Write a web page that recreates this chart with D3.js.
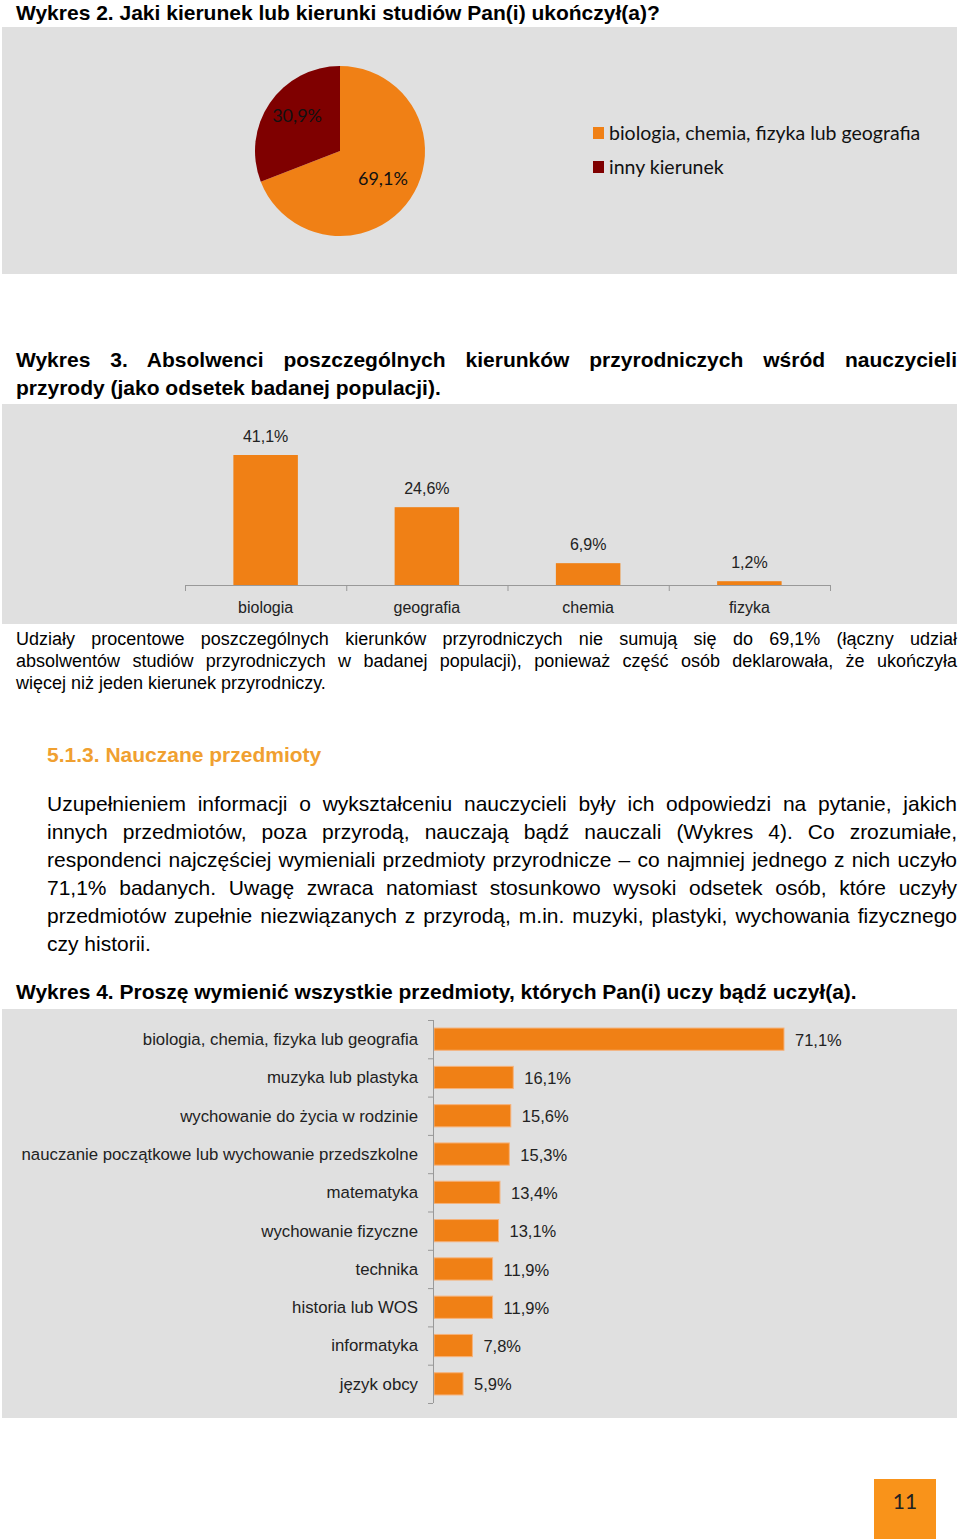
<!DOCTYPE html>
<html>
<head>
<meta charset="utf-8">
<script src="https://cdn.jsdelivr.net/npm/d3@7"></script>
<style>
  body { margin: 0; background: #fff; }
  #page { position: relative; width: 960px; height: 1540px; overflow: hidden; }
  svg { position: absolute; left: 0; top: 0; }
  .line { position: absolute; white-space: nowrap; font-family: "Liberation Sans", Arial, sans-serif; color: #000; }
  .just { text-align: justify; text-align-last: justify; }
  .title { font-weight: bold; font-size: 21px; }
</style>
</head>
<body>
<div id="page"></div>
<script>
// pie (Wykres 2)
var pieLabels = ["biologia, chemia, fizyka lub geografia", "inny kierunek"];
var pieValues = [69.1, 30.9];
var pieColors = ["#F08015", "#7F0000"];

// Wykres 3
var fields = ["biologia", "geografia", "chemia", "fizyka"];
var fieldValues = [41.1, 24.6, 6.9, 1.2];

// Wykres 4
var subjects = ["biologia, chemia, fizyka lub geografia", "muzyka lub plastyka",
  "wychowanie do życia w rodzinie", "nauczanie początkowe lub wychowanie przedszkolne",
  "matematyka", "wychowanie fizyczne", "technika", "historia lub WOS", "informatyka", "język obcy"];
var subjectValues = [71.1, 16.1, 15.6, 15.3, 13.4, 13.1, 11.9, 11.9, 7.8, 5.9];

var textLines = [
  {t: "Wykres 2. Jaki kierunek lub kierunki studiów Pan(i) ukończył(a)?", x: 16, y: 1, cls: "title"},
  {t: "Wykres 3. Absolwenci poszczególnych kierunków przyrodniczych wśród nauczycieli", x: 16, y: 348, w: 941, cls: "title just"},
  {t: "przyrody (jako odsetek badanej populacji).", x: 16, y: 376, cls: "title"},
  {t: "Udziały procentowe poszczególnych kierunków przyrodniczych nie sumują się do 69,1% (łączny udział", x: 16, y: 629, w: 941, fs: 18, cls: "just"},
  {t: "absolwentów studiów przyrodniczych w badanej populacji), ponieważ część osób deklarowała, że ukończyła", x: 16, y: 651, w: 941, fs: 18, cls: "just"},
  {t: "więcej niż jeden kierunek przyrodniczy.", x: 16, y: 673, fs: 18, cls: ""},
  {t: "Uzupełnieniem informacji o wykształceniu nauczycieli były ich odpowiedzi na pytanie, jakich", x: 47, y: 792, w: 910, fs: 21, cls: "just"},
  {t: "innych przedmiotów, poza przyrodą, nauczają bądź nauczali (Wykres 4). Co zrozumiałe,", x: 47, y: 820, w: 910, fs: 21, cls: "just"},
  {t: "respondenci najczęściej wymieniali przedmioty przyrodnicze – co najmniej jednego z nich uczyło", x: 47, y: 848, w: 910, fs: 21, cls: "just"},
  {t: "71,1% badanych. Uwagę zwraca natomiast stosunkowo wysoki odsetek osób, które uczyły", x: 47, y: 876, w: 910, fs: 21, cls: "just"},
  {t: "przedmiotów zupełnie niezwiązanych z przyrodą, m.in. muzyki, plastyki, wychowania fizycznego", x: 47, y: 904, w: 910, fs: 21, cls: "just"},
  {t: "czy historii.", x: 47, y: 932, fs: 21, cls: ""},
  {t: "Wykres 4. Proszę wymienić wszystkie przedmioty, których Pan(i) uczy bądź uczył(a).", x: 16, y: 980, cls: "title"}
];

var pct = d3.formatLocale({decimal: ",", thousands: " ", grouping: [3], currency: ["", " zł"]}).format(".1f");

var page = d3.select("#page");
var svg = page.append("svg").attr("width", 960).attr("height", 1540);

textLines.forEach(function(d) {
  var div = page.append("div")
      .attr("class", "line " + d.cls)
      .style("left", d.x + "px")
      .style("top", d.y + "px")
      .text(d.t);
  if (d.w) div.style("width", d.w + "px");
  if (d.fs) div.style("font-size", d.fs + "px");
});

// heading
page.append("div")
    .attr("class", "line title")
    .style("left", "47px").style("top", "743px")
    .style("color", "#F0A030")
    .text("5.1.3. Nauczane przedmioty");

// ---------- Wykres 2: pie ----------
svg.append("rect").attr("x", 2).attr("y", 27).attr("width", 955).attr("height", 247).attr("fill", "#E0E0E0");

var pieData = d3.pie().sort(null)(pieValues);
var arc = d3.arc().innerRadius(0).outerRadius(85);
var labelArc = d3.arc().innerRadius(52).outerRadius(52);

var pieG = svg.append("g").attr("transform", "translate(340,151)");
pieG.selectAll("path")
    .data(pieData)
    .enter().append("path")
    .attr("d", arc)
    .attr("fill", function(d, i) { return pieColors[i]; });

pieG.selectAll("text")
    .data(pieData)
    .enter().append("text")
    .attr("transform", function(d, i) {
      var c = labelArc.centroid(d);
      return "translate(" + c[0] + "," + (c[1] + (i == 1 ? -6 : -2)) + ")";
    })
    .attr("text-anchor", "middle")
    .attr("dy", ".35em")
    .attr("font-family", "Lato, sans-serif")
    .attr("font-size", 18)
    .attr("fill", "#111")
    .text(function(d) { return pct(d.value) + "%"; });

var legend = svg.append("g").selectAll("g")
    .data(pieLabels)
    .enter().append("g")
    .attr("transform", function(d, i) { return "translate(593," + (133 + i * 34) + ")"; });
legend.append("rect")
    .attr("x", 0).attr("y", -6).attr("width", 11).attr("height", 12)
    .attr("fill", function(d, i) { return pieColors[i]; });
legend.append("text")
    .attr("x", 16).attr("dy", ".35em")
    .attr("font-family", "Lato, sans-serif")
    .attr("font-size", 19.5)
    .attr("fill", "#111")
    .text(function(d) { return d; });

// ---------- Wykres 3: column chart ----------
svg.append("rect").attr("x", 2).attr("y", 404).attr("width", 955).attr("height", 220).attr("fill", "#E0E0E0");

var x3 = d3.scaleBand().domain(fields).range([185, 830]);
var y3 = d3.scaleLinear().domain([0, 41.1]).range([585, 455]);

var g3 = svg.append("g");
g3.selectAll("rect.bar")
    .data(fieldValues)
    .enter().append("rect")
    .attr("class", "bar")
    .attr("x", function(d, i) { return x3(fields[i]) + x3.bandwidth() * 0.3; })
    .attr("width", x3.bandwidth() * 0.4)
    .attr("y", function(d) { return y3(d); })
    .attr("height", function(d) { return y3(0) - y3(d); })
    .attr("fill", "#F08015");

g3.selectAll("text.val")
    .data(fieldValues)
    .enter().append("text")
    .attr("class", "val")
    .attr("x", function(d, i) { return x3(fields[i]) + x3.bandwidth() / 2; })
    .attr("y", function(d) { return y3(d) - 13; })
    .attr("text-anchor", "middle")
    .attr("font-family", "Liberation Sans, Arial, sans-serif")
    .attr("font-size", 16)
    .attr("fill", "#222")
    .text(function(d) { return pct(d) + "%"; });

g3.append("line")
    .attr("x1", 185).attr("x2", 830).attr("y1", y3(0) + 0.5).attr("y2", y3(0) + 0.5)
    .attr("stroke", "#999");
var bounds3 = fields.map(function(f) { return x3(f); }).concat([830]);
g3.selectAll("line.tick")
    .data(bounds3)
    .enter().append("line")
    .attr("class", "tick")
    .attr("x1", function(d) { return d + 0.5; }).attr("x2", function(d) { return d + 0.5; })
    .attr("y1", y3(0)).attr("y2", y3(0) + 6)
    .attr("stroke", "#999");
g3.selectAll("text.cat")
    .data(fields)
    .enter().append("text")
    .attr("class", "cat")
    .attr("x", function(d) { return x3(d) + x3.bandwidth() / 2; })
    .attr("y", 613)
    .attr("text-anchor", "middle")
    .attr("font-family", "Liberation Sans, Arial, sans-serif")
    .attr("font-size", 16)
    .attr("fill", "#222")
    .text(function(d) { return d; });

// ---------- Wykres 4: horizontal bars ----------
svg.append("rect").attr("x", 2).attr("y", 1009).attr("width", 955).attr("height", 409).attr("fill", "#E0E0E0");

var y4 = d3.scaleBand().domain(subjects).range([1020, 1403]);
var x4 = d3.scaleLinear().domain([0, 71.1]).range([434, 784]);

var g4 = svg.append("g");
g4.selectAll("rect.bar")
    .data(subjectValues)
    .enter().append("rect")
    .attr("class", "bar")
    .attr("x", x4(0))
    .attr("y", function(d, i) { return y4(subjects[i]) + y4.bandwidth() * 0.21; })
    .attr("height", y4.bandwidth() * 0.58)
    .attr("width", function(d) { return x4(d) - x4(0); })
    .attr("fill", "#F08015")
    .attr("stroke", "#F6B27A")
    .attr("stroke-width", 1);

g4.selectAll("text.val")
    .data(subjectValues)
    .enter().append("text")
    .attr("class", "val")
    .attr("x", function(d) { return x4(d) + 11; })
    .attr("y", function(d, i) { return y4(subjects[i]) + y4.bandwidth() / 2; })
    .attr("dy", ".4em")
    .attr("font-family", "Liberation Sans, Arial, sans-serif")
    .attr("font-size", 16.5)
    .attr("fill", "#222")
    .text(function(d) { return pct(d) + "%"; });

g4.append("line")
    .attr("x1", 433.5).attr("x2", 433.5).attr("y1", 1020).attr("y2", 1403)
    .attr("stroke", "#999");
var bounds4 = subjects.map(function(s) { return y4(s); }).concat([1403]);
g4.selectAll("line.tick")
    .data(bounds4)
    .enter().append("line")
    .attr("class", "tick")
    .attr("x1", 428).attr("x2", 433)
    .attr("y1", function(d) { return d + 0.5; }).attr("y2", function(d) { return d + 0.5; })
    .attr("stroke", "#999");
g4.selectAll("text.cat")
    .data(subjects)
    .enter().append("text")
    .attr("class", "cat")
    .attr("x", 418)
    .attr("y", function(d) { return y4(d) + y4.bandwidth() / 2; })
    .attr("dy", ".35em")
    .attr("text-anchor", "end")
    .attr("font-family", "Liberation Sans, Arial, sans-serif")
    .attr("font-size", 16.8)
    .attr("fill", "#222")
    .text(function(d) { return d; });

// page number
svg.append("rect").attr("x", 874).attr("y", 1479).attr("width", 62).attr("height", 60).attr("fill", "#F9931A");
svg.append("text")
    .attr("x", 905).attr("y", 1502).attr("dy", ".35em")
    .attr("text-anchor", "middle")
    .attr("font-family", "Lato, sans-serif")
    .attr("font-size", 21)
    .attr("fill", "#222")
    .text("11");
</script>
</body>
</html>
